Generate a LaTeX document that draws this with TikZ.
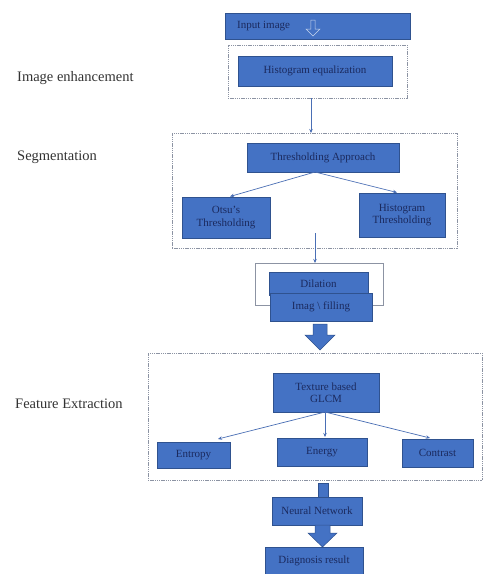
\documentclass[tikz,border=0pt]{standalone}
\usepackage{fontspec}
\setmainfont{Liberation Serif}
\usetikzlibrary{arrows.meta,shapes.arrows}
\definecolor{boxfill}{HTML}{4472C4}
\definecolor{boxedge}{HTML}{2F528F}
\definecolor{boxtext}{HTML}{1B2A5E}
\definecolor{dashc}{HTML}{8C93A3}
\definecolor{linec}{HTML}{4A6FB5}
\begin{document}
\begin{tikzpicture}[x=1pt,y=-1pt,
  bluebox/.style={draw=boxedge,line width=0.6pt,fill=boxfill,text=boxtext,font=\fontsize{11}{12.5}\selectfont,align=center,inner sep=1pt},
  dashbox/.style={draw=dashc,line width=0.8pt,dash pattern=on 1.4pt off 0.8pt,inner sep=0pt},
  plainbox/.style={draw=dashc,line width=0.7pt,inner sep=0pt},
  sidelabel/.style={font=\fontsize{14.5}{16}\selectfont,text=black!80,anchor=west,inner sep=0pt},
  conn/.style={draw=linec,line width=0.7pt,-{Stealth[length=4pt,width=3.5pt]}},
  blockarrow/.style={fill=boxfill,draw=boxedge,line width=0.5pt}
]
\useasboundingbox (0,0) rectangle (484,574);
\fill[white] (0,0) rectangle (484,574);

% side labels
\node[sidelabel] (lab1) at (17,78) {Image enhancement};
\node[sidelabel] (lab2) at (17,157) {Segmentation};
\node[sidelabel] (lab3) at (15,404) {Feature Extraction};

% input image
\node[bluebox,minimum width=185pt,minimum height=26pt] (input) at (317.5,26) {};
\node[text=boxtext,font=\fontsize{11}{12.5}\selectfont,anchor=west,inner sep=0pt] (inputtxt) at (237,26) {Input image};
\node[single arrow,draw=white!70!boxfill,line width=0.5pt,rotate=-90,minimum height=16pt,minimum width=14pt,single arrow head extend=3pt,inner sep=1pt] (inarrow) at (313,27) {};

% histogram equalization
\node[dashbox,minimum width=179pt,minimum height=53pt] (enhbox) at (317.5,71.5) {};
\node[bluebox,minimum width=154pt,minimum height=30pt] (histeq) at (315,71) {Histogram equalization};

% segmentation
\node[dashbox,minimum width=285pt,minimum height=115pt] (segbox) at (314.5,190.5) {};
\node[bluebox,minimum width=152pt,minimum height=29pt] (thresh) at (323,157.5) {Thresholding Approach};
\node[bluebox,minimum width=88pt,minimum height=41pt] (otsu) at (226,217.5) {Otsu's\\Thresholding};
\node[bluebox,minimum width=86pt,minimum height=44pt] (histthr) at (402,215) {Histogram\\Thresholding};
\coordinate (tstart) at (315,172);
\draw[conn] (tstart) -- (230,196.5) coordinate (otip);
\draw[conn] (tstart) -- (397,192.5) coordinate (htip);

\coordinate (e1) at (311,98);
\coordinate (e2) at (311,133);
\draw[conn] (e1) -- (e2);

% dilation / filling
\node[plainbox,minimum width=128pt,minimum height=42pt] (dilbox) at (319,284) {};
\coordinate (s1) at (315,233);
\coordinate (s2) at (315,263);
\draw[conn] (s1) -- (s2);
\node[bluebox,minimum width=99pt,minimum height=23pt] (dilation) at (318.5,283.5) {Dilation};
\node[bluebox,minimum width=102pt,minimum height=28pt] (filling) at (321,307) {Imag \textbackslash{} filling};

% block arrow dilation -> feature
\draw[blockarrow] (313,324) -- (327,324) -- (327,335) -- (335,335) -- (320,350) -- (305,335) -- (313,335) -- cycle;

% feature extraction
\node[dashbox,minimum width=334pt,minimum height=127pt] (featbox) at (315,416.5) {};
\node[bluebox,minimum width=106pt,minimum height=39pt] (glcm) at (326,392.5) {Texture based\\GLCM};
\node[bluebox,minimum width=73pt,minimum height=26pt] (entropy) at (193.5,455) {Entropy};
\node[bluebox,minimum width=90pt,minimum height=28pt] (energy) at (322,452) {Energy};
\node[bluebox,minimum width=71pt,minimum height=28pt] (contrast) at (437.5,453) {Contrast};
\coordinate (gstart) at (325,412);
\draw[conn] (gstart) -- (218,439);
\draw[conn] (gstart) -- (325,437);
\draw[conn] (gstart) -- (430,438);

% small block arrow feature -> neural network
\draw[blockarrow] (318,483) -- (328,483) -- (328,500) -- (318,500) -- cycle;

% neural network
\node[bluebox,minimum width=90pt,minimum height=28pt] (nn) at (317,511) {Neural Network};
\draw[blockarrow] (315,525) -- (330,525) -- (330,533) -- (337,533) -- (322.5,547) -- (308,533) -- (315,533) -- cycle;
\node[bluebox,minimum width=98pt,minimum height=27pt] (diag) at (314,560.5) {Diagnosis result};
\end{tikzpicture}
\end{document}
